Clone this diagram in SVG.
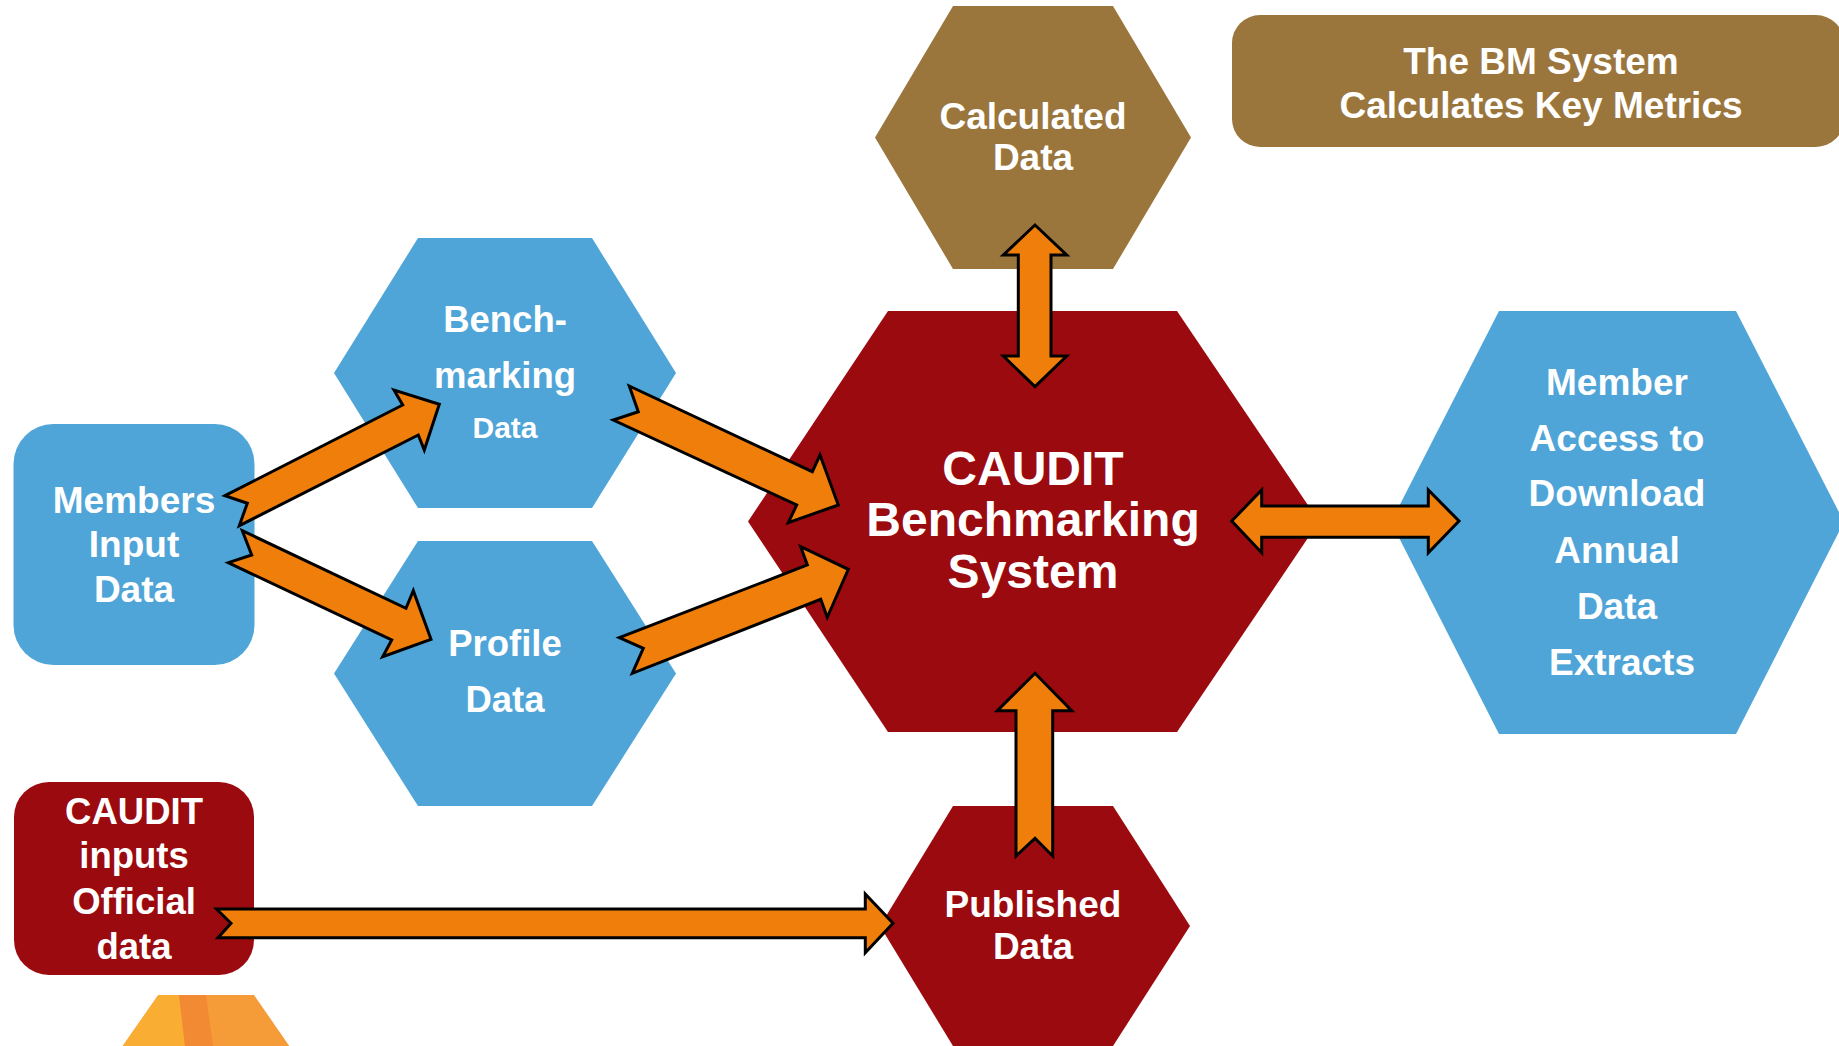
<svg xmlns="http://www.w3.org/2000/svg" width="1839" height="1046" viewBox="0 0 1839 1046">
  <defs>
    <style>
      .blue { fill: #4FA5D8; }
      .red { fill: #9B0A0F; }
      .brown { fill: #9B763C; }
      .arrow { fill: #EF7F0A; stroke: #000000; stroke-width: 3; stroke-linejoin: miter; }
      text { font-family: "Liberation Sans", Arial, sans-serif; font-weight: bold; fill: #FFFFFF; text-anchor: middle; }
      .t36 { font-size: 36.5px; }
      .t37 { font-size: 37px; }
      .t30 { font-size: 30px; }
      .t48 { font-size: 48px; }
    </style>
  </defs>
  <rect x="0" y="0" width="1839" height="1046" fill="#FFFFFF"/>

  <g id="calculated-data">
    <polygon class="brown" points="953,6 1113,6 1191,137.5 1113,269 953,269 875,137.5"/>
    <text class="t37" x="1033" y="129">Calculated</text>
    <text class="t37" x="1033" y="170">Data</text>
  </g>

  <g id="bm-system-note">
    <rect class="brown" x="1232" y="15" width="612" height="132" rx="28" ry="28"/>
    <text class="t37" x="1541" y="74">The BM System</text>
    <text class="t37" x="1541" y="118">Calculates Key Metrics</text>
  </g>

  <g id="benchmarking-data">
    <polygon class="blue" points="418,238 592,238 676,373 592,508 418,508 334,373"/>
    <text class="t36" x="505" y="332">Bench-</text>
    <text class="t36" x="505" y="388">marking</text>
    <text class="t30" x="505" y="438">Data</text>
  </g>

  <g id="profile-data">
    <polygon class="blue" points="418,541 592,541 676,673.5 592,806 418,806 334,673.5"/>
    <text class="t36" x="505" y="656">Profile</text>
    <text class="t36" x="505" y="712">Data</text>
  </g>

  <g id="members-input-data">
    <rect class="blue" x="13.5" y="424" width="241" height="241" rx="40" ry="40"/>
    <text class="t37" x="134" y="513">Members</text>
    <text class="t37" x="134" y="557">Input</text>
    <text class="t37" x="134" y="602">Data</text>
  </g>

  <g id="caudit-benchmarking-system">
    <polygon class="red" points="888,311 1177,311 1319,521.5 1177,732 888,732 748,521.5"/>
    <text class="t48" x="1033" y="485">CAUDIT</text>
    <text class="t48" x="1033" y="536">Benchmarking</text>
    <text class="t48" x="1033" y="588">System</text>
  </g>

  <g id="member-access">
    <polygon class="blue" points="1499,311 1736,311 1844,522 1736,734 1499,734 1391,522"/>
    <text class="t37" x="1617" y="395">Member</text>
    <text class="t37" x="1617" y="451">Access to</text>
    <text class="t37" x="1617" y="506">Download</text>
    <text class="t37" x="1617" y="563">Annual</text>
    <text class="t37" x="1617" y="619">Data</text>
    <text class="t37" x="1622" y="675">Extracts</text>
  </g>

  <g id="caudit-inputs">
    <rect class="red" x="14" y="782" width="240" height="193" rx="35" ry="35"/>
    <text class="t36" x="134" y="824">CAUDIT</text>
    <text class="t36" x="134" y="868">inputs</text>
    <text class="t36" x="134" y="914">Official</text>
    <text class="t36" x="134" y="959">data</text>
  </g>

  <g id="published-data">
    <polygon class="red" points="953,806 1113,806 1190,926 1113,1046 953,1046 880,926"/>
    <text class="t37" x="1033" y="917">Published</text>
    <text class="t37" x="1033" y="959">Data</text>
  </g>

  <g id="partial-hex">
    <polygon fill="#F59B37" points="158.3,995 254,995 289.3,1046 122.7,1046"/>
    <polygon fill="#F9AD33" points="158.3,995 179,995 185,1046 122.7,1046"/>
    <polygon fill="#F28A33" points="179,995 206,995 213,1046 185,1046"/>
  </g>

  <g id="connectors">
    <polygon class="arrow" points="225,495.7 402.7,405 394,390 439.3,404.3 424.3,450 418.3,435 239.3,525.7 247.3,503.3"/>
    <polygon class="arrow" points="242.3,530.7 406,608.3 413.3,590.7 431,639.3 382.7,656.7 391.7,640 228.3,562.7 251.7,555"/>
    <polygon class="arrow" points="629.3,386 812.3,471.7 820,455 838.3,505 788.3,522.7 796.7,505 613.3,420 638.3,411.7"/>
    <polygon class="arrow" points="619.3,637.7 807.3,565 800.7,546.7 848.3,569.3 827.3,617.3 820.7,599.3 632.3,673.3 643.3,648.3"/>
    <polygon class="arrow" points="1035,225 1066.7,255 1051,255 1051,356 1066.7,356 1035,386.7 1003.3,356 1018.3,356 1018.3,255 1003.3,255"/>
    <polygon class="arrow" points="1231.7,521 1261.7,490 1261.7,506 1428.3,506 1428.3,490 1459,521 1428.3,552.7 1428.3,537.3 1261.7,537.3 1261.7,552.7"/>
    <polygon class="arrow" points="1035,673.3 1071.7,710.7 1052.7,710.7 1052.7,856 1035,838.3 1016,856 1016,710.7 997.3,710.7"/>
    <polygon class="arrow" points="216.5,909 865.3,909 865.3,894 893,923.3 865.3,952.7 865.3,937.7 218,937.7 231,923.3"/>
  </g>
</svg>
